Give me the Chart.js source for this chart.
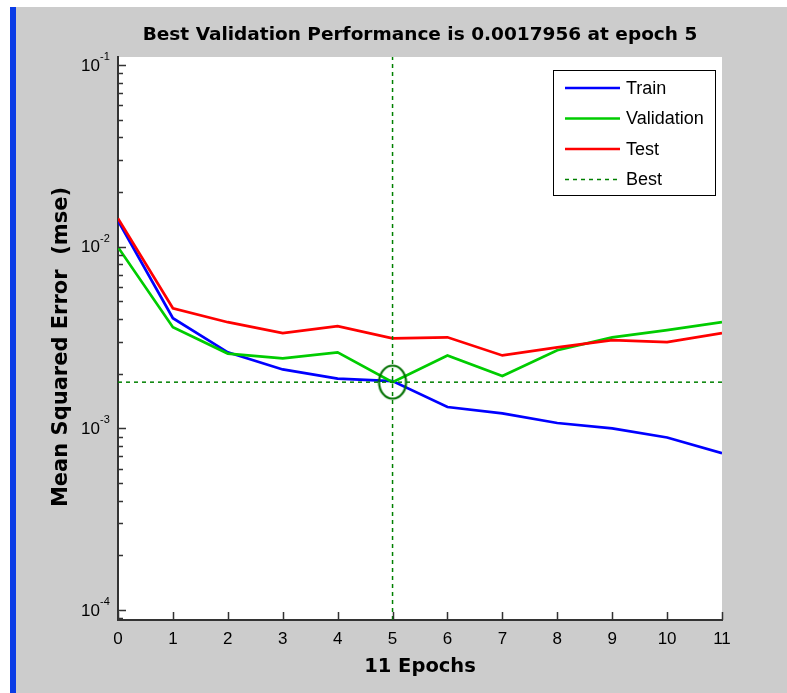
<!DOCTYPE html>
<html>
<head>
<meta charset="utf-8">
<script src="https://cdn.jsdelivr.net/npm/chart.js@4"></script>
<style>
  html, body { margin: 0; padding: 0; background: #fff; }
  #grafico { display: block; }
</style>
</head>
<body>
<canvas id="grafico" width="787" height="693"></canvas>
<script>
// Dados
const epochs = [0, 1, 2, 3, 4, 5, 6, 7, 8, 9, 10, 11];
const trainMse = [0.0139, 0.00404, 0.00262, 0.00211, 0.00188, 0.00182, 0.00131, 0.00121, 0.00107, 0.00100, 0.00089, 0.00073];
const validationMse = [0.00994, 0.00360, 0.00258, 0.00243, 0.00262, 0.0017956, 0.00252, 0.00194, 0.00269, 0.00317, 0.00347, 0.00384];
const testMse = [0.0143, 0.00458, 0.00384, 0.00334, 0.00365, 0.00313, 0.00317, 0.00252, 0.00279, 0.00306, 0.00298, 0.00334];
const bestEpoch = 5;
const bestPerf = 0.0017956;
const yTickPowers = [-1, -2, -3, -4];
const yMin = 8.81e-5;
const yMax = 0.1107;

const FONT = '"Liberation Sans", Arial, Helvetica, sans-serif';
const FONT_BOLD = '"DejaVu Sans", "Liberation Sans", sans-serif';
const verdeEscuro = '#008000';

const pontos = (vals) => epochs.map((e, i) => ({ x: e, y: vals[i] }));

// Círculo um pouco esticado na vertical, como no original
const marcaBest = document.createElement('canvas');
marcaBest.width = 32;
marcaBest.height = 38;
(() => {
    const c = marcaBest.getContext('2d');
    c.strokeStyle = '#007000';
    c.lineWidth = 2.2;
    c.beginPath();
    c.ellipse(16, 19, 13.5, 16.5, 0, 0, Math.PI * 2);
    c.stroke();
})();

// Fundo, eixos, rótulos, título e legenda
const desenhoMatlab = {
    id: 'desenhoMatlab',
    beforeDraw(chart) {
        const ctx = chart.ctx;
        const a = chart.chartArea;
        ctx.save();
        ctx.fillStyle = '#ffffff';
        ctx.fillRect(0, 0, chart.width, chart.height);
        ctx.fillStyle = '#cccccc';
        ctx.fillRect(16, 7, chart.width - 16, chart.height - 7);
        ctx.fillStyle = '#0a3ce6';
        ctx.fillRect(10, 7, 6, chart.height - 7);
        ctx.fillStyle = '#ffffff';
        ctx.fillRect(a.left, a.top, a.right - a.left, a.bottom - a.top);
        ctx.restore();
    },
    afterDraw(chart) {
        const ctx = chart.ctx;
        const a = chart.chartArea;
        const xs = chart.scales.x;
        const ys = chart.scales.y;
        ctx.save();

        // ticks para dentro
        ctx.strokeStyle = '#333';
        ctx.lineWidth = 1.5;
        ctx.beginPath();
        epochs.forEach(e => {
            const px = Math.round(xs.getPixelForValue(e)) + 0.5;
            ctx.moveTo(px, a.bottom);
            ctx.lineTo(px, a.bottom - 8);
        });
        for (let p = -5; p <= -1; p++) {
            for (let k = 1; k <= 9; k++) {
                const v = k * Math.pow(10, p);
                if (v < yMin || v > yMax) continue;
                const py = Math.round(ys.getPixelForValue(v)) + 0.5;
                ctx.moveTo(a.left, py);
                ctx.lineTo(a.left + (k === 1 ? 8 : 5), py);
            }
        }
        ctx.stroke();

        // rótulos do eixo y com expoente
        ctx.fillStyle = '#000';
        yTickPowers.forEach(p => {
            const py = ys.getPixelForValue(Math.pow(10, p));
            ctx.font = '17px ' + FONT;
            ctx.textAlign = 'right';
            ctx.textBaseline = 'middle';
            ctx.fillText('10', a.left - 18, py + 1);
            ctx.font = '11px ' + FONT;
            ctx.textAlign = 'left';
            ctx.fillText(String(p), a.left - 18, py - 8);
        });

        // título
        ctx.font = 'bold 18.5px ' + FONT_BOLD;
        ctx.textAlign = 'center';
        ctx.textBaseline = 'middle';
        ctx.fillText('Best Validation Performance is ' + bestPerf + ' at epoch ' + bestEpoch,
            (a.left + a.right) / 2, 35);

        // título do eixo y
        ctx.save();
        ctx.translate(62, 347);
        ctx.rotate(-Math.PI / 2);
        ctx.font = 'bold 21px ' + FONT_BOLD;
        ctx.fillText('Mean Squared Error  (mse)', 0, 0);
        ctx.restore();

        // legenda
        const lx = a.right - 169, ly = a.top + 13, lw = 162, lh = 125;
        ctx.fillStyle = '#fff';
        ctx.fillRect(lx, ly, lw, lh);
        ctx.strokeStyle = '#000';
        ctx.lineWidth = 1;
        ctx.strokeRect(lx + 0.5, ly + 0.5, lw, lh);
        const itens = chart.data.datasets.filter(d => d.naLegenda);
        itens.forEach((d, i) => {
            const ry = ly + 18 + i * 30.5;
            ctx.strokeStyle = d.borderColor;
            ctx.lineWidth = d.borderDash ? 1.5 : 2.5;
            ctx.setLineDash(d.borderDash || []);
            ctx.beginPath();
            ctx.moveTo(lx + 12, ry);
            ctx.lineTo(lx + 67, ry);
            ctx.stroke();
            ctx.setLineDash([]);
            ctx.fillStyle = '#000';
            ctx.font = '18px ' + FONT;
            ctx.textAlign = 'left';
            ctx.textBaseline = 'middle';
            ctx.fillText(d.label, lx + 73, ry + 1);
        });
        ctx.restore();
    }
};

new Chart(document.getElementById('grafico'), {
    type: 'line',
    data: {
        datasets: [
            { label: 'Train', data: pontos(trainMse), borderColor: '#0000ff', borderWidth: 2.7, naLegenda: true, order: 3 },
            { label: 'Validation', data: pontos(validationMse), borderColor: '#00cc00', borderWidth: 2.7, naLegenda: true, order: 2 },
            { label: 'Test', data: pontos(testMse), borderColor: '#ff0000', borderWidth: 2.7, naLegenda: true, order: 1 },
            { label: 'Best', data: [{ x: epochs[0], y: bestPerf }, { x: epochs[epochs.length - 1], y: bestPerf }],
              borderColor: verdeEscuro, borderWidth: 1.5, borderDash: [4, 4], naLegenda: true, order: 0 },
            { label: 'BestV', data: [{ x: bestEpoch, y: yMin }, { x: bestEpoch, y: yMax }],
              borderColor: verdeEscuro, borderWidth: 1.5, borderDash: [4, 4], order: 0 },
            { label: 'Goal', data: [{ x: bestEpoch, y: bestPerf }], showLine: false,
              pointStyle: marcaBest, pointRadius: 16, order: 0 }
        ]
    },
    options: {
        responsive: false,
        animation: false,
        elements: { point: { radius: 0 }, line: { tension: 0 } },
        layout: { padding: { top: 57, right: 65, left: 0, bottom: 0 } },
        plugins: {
            legend: { display: false },
            tooltip: { enabled: false },
            title: { display: false }
        },
        scales: {
            x: {
                type: 'linear',
                min: 0,
                max: 11,
                afterFit: (s) => { s.height = 73; },
                ticks: { stepSize: 1, color: '#000', padding: 9, font: { size: 17, family: FONT } },
                grid: { display: false, drawTicks: false },
                border: { display: true, color: '#333', width: 2 },
                title: { display: true, text: epochs.length - 1 + ' Epochs', color: '#000',
                         font: { size: 19.5, weight: 'bold', family: FONT_BOLD }, padding: { top: 0, bottom: 14 } }
            },
            y: {
                type: 'logarithmic',
                min: yMin,
                max: yMax,
                afterFit: (s) => { s.width = 118; },
                ticks: { display: false },
                grid: { display: false, drawTicks: false },
                border: { display: true, color: '#333', width: 2 }
            }
        }
    },
    plugins: [desenhoMatlab]
});
</script>
</body>
</html>
